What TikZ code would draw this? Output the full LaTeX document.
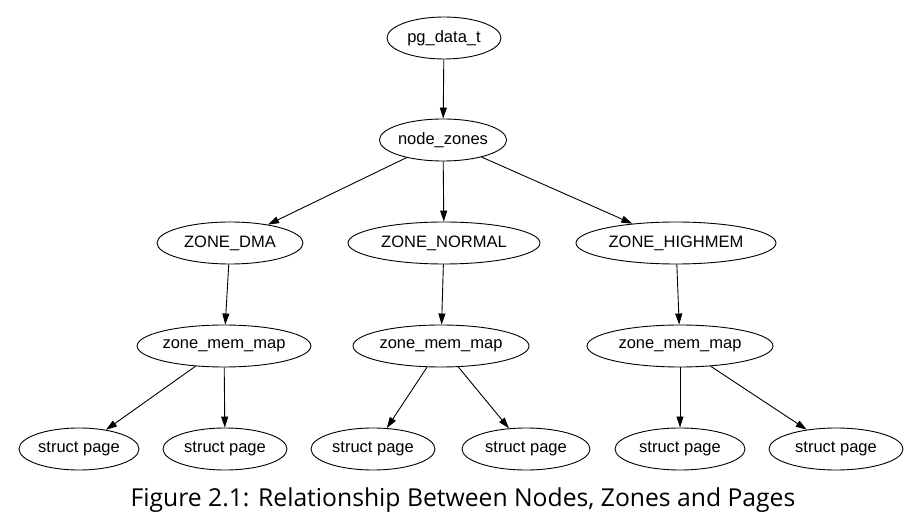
\documentclass[tikz,border=0pt]{standalone}
\usepackage{fontspec}
\setmainfont{Liberation Sans}
\newfontfamily\capfont{Open Sans}
\usetikzlibrary{shapes.geometric,arrows.meta}
\begin{document}
\begin{tikzpicture}[x=1pt,y=-1pt,
  nd/.style={ellipse,draw,line width=0.9pt,minimum height=42pt,inner sep=0pt,font=\fontsize{16.5}{18}\selectfont},
  edge/.style={-{Triangle[length=11pt,width=7pt]},line width=0.9pt}]
\useasboundingbox[fill=white] (0,0) rectangle (911,529);
\node[nd,minimum width=114pt] (pg) at (444,38) {pg\_data\_t};
\node[nd,minimum width=126pt] (nz) at (443,140) {node\_zones};
\node[nd,minimum width=146pt] (dma) at (230,243) {ZONE\_DMA};
\node[nd,minimum width=192pt] (nor) at (444,243) {ZONE\_NORMAL};
\node[nd,minimum width=200pt] (high) at (676,243) {ZONE\_HIGHMEM};
\node[nd,minimum width=172pt] (m1) at (224,346) {zone\_mem\_map};
\node[nd,minimum width=176pt] (m2) at (441,346) {zone\_mem\_map};
\node[nd,minimum width=186pt] (m3) at (680,346) {zone\_mem\_map};
\node[nd,minimum width=120pt] (p1) at (79,449) {struct page};
\node[nd,minimum width=124pt] (p2) at (225,449) {struct page};
\node[nd,minimum width=124pt] (p3) at (373,449) {struct page};
\node[nd,minimum width=128pt] (p4) at (526,449) {struct page};
\node[nd,minimum width=130pt] (p5) at (680,449) {struct page};
\node[nd,minimum width=134pt] (p6) at (836,449) {struct page};
\draw[edge] (pg) -- (nz);
\draw[edge] (nz) -- (dma);
\draw[edge] (nz) -- (nor);
\draw[edge] (nz) -- (high);
\draw[edge] (dma) -- (m1);
\draw[edge] (nor) -- (m2);
\draw[edge] (high) -- (m3);
\draw[edge] (m1) -- (p1);
\draw[edge] (m1) -- (p2);
\draw[edge] (m2) -- (p3);
\draw[edge] (m2) -- (p4);
\draw[edge] (m3) -- (p5);
\draw[edge] (m3) -- (p6);
\node[font=\capfont\fontsize{24.7}{28}\selectfont] (cap) at (463,500) {Figure 2.1: Relationship Between Nodes, Zones and Pages};
\end{tikzpicture}
\end{document}
